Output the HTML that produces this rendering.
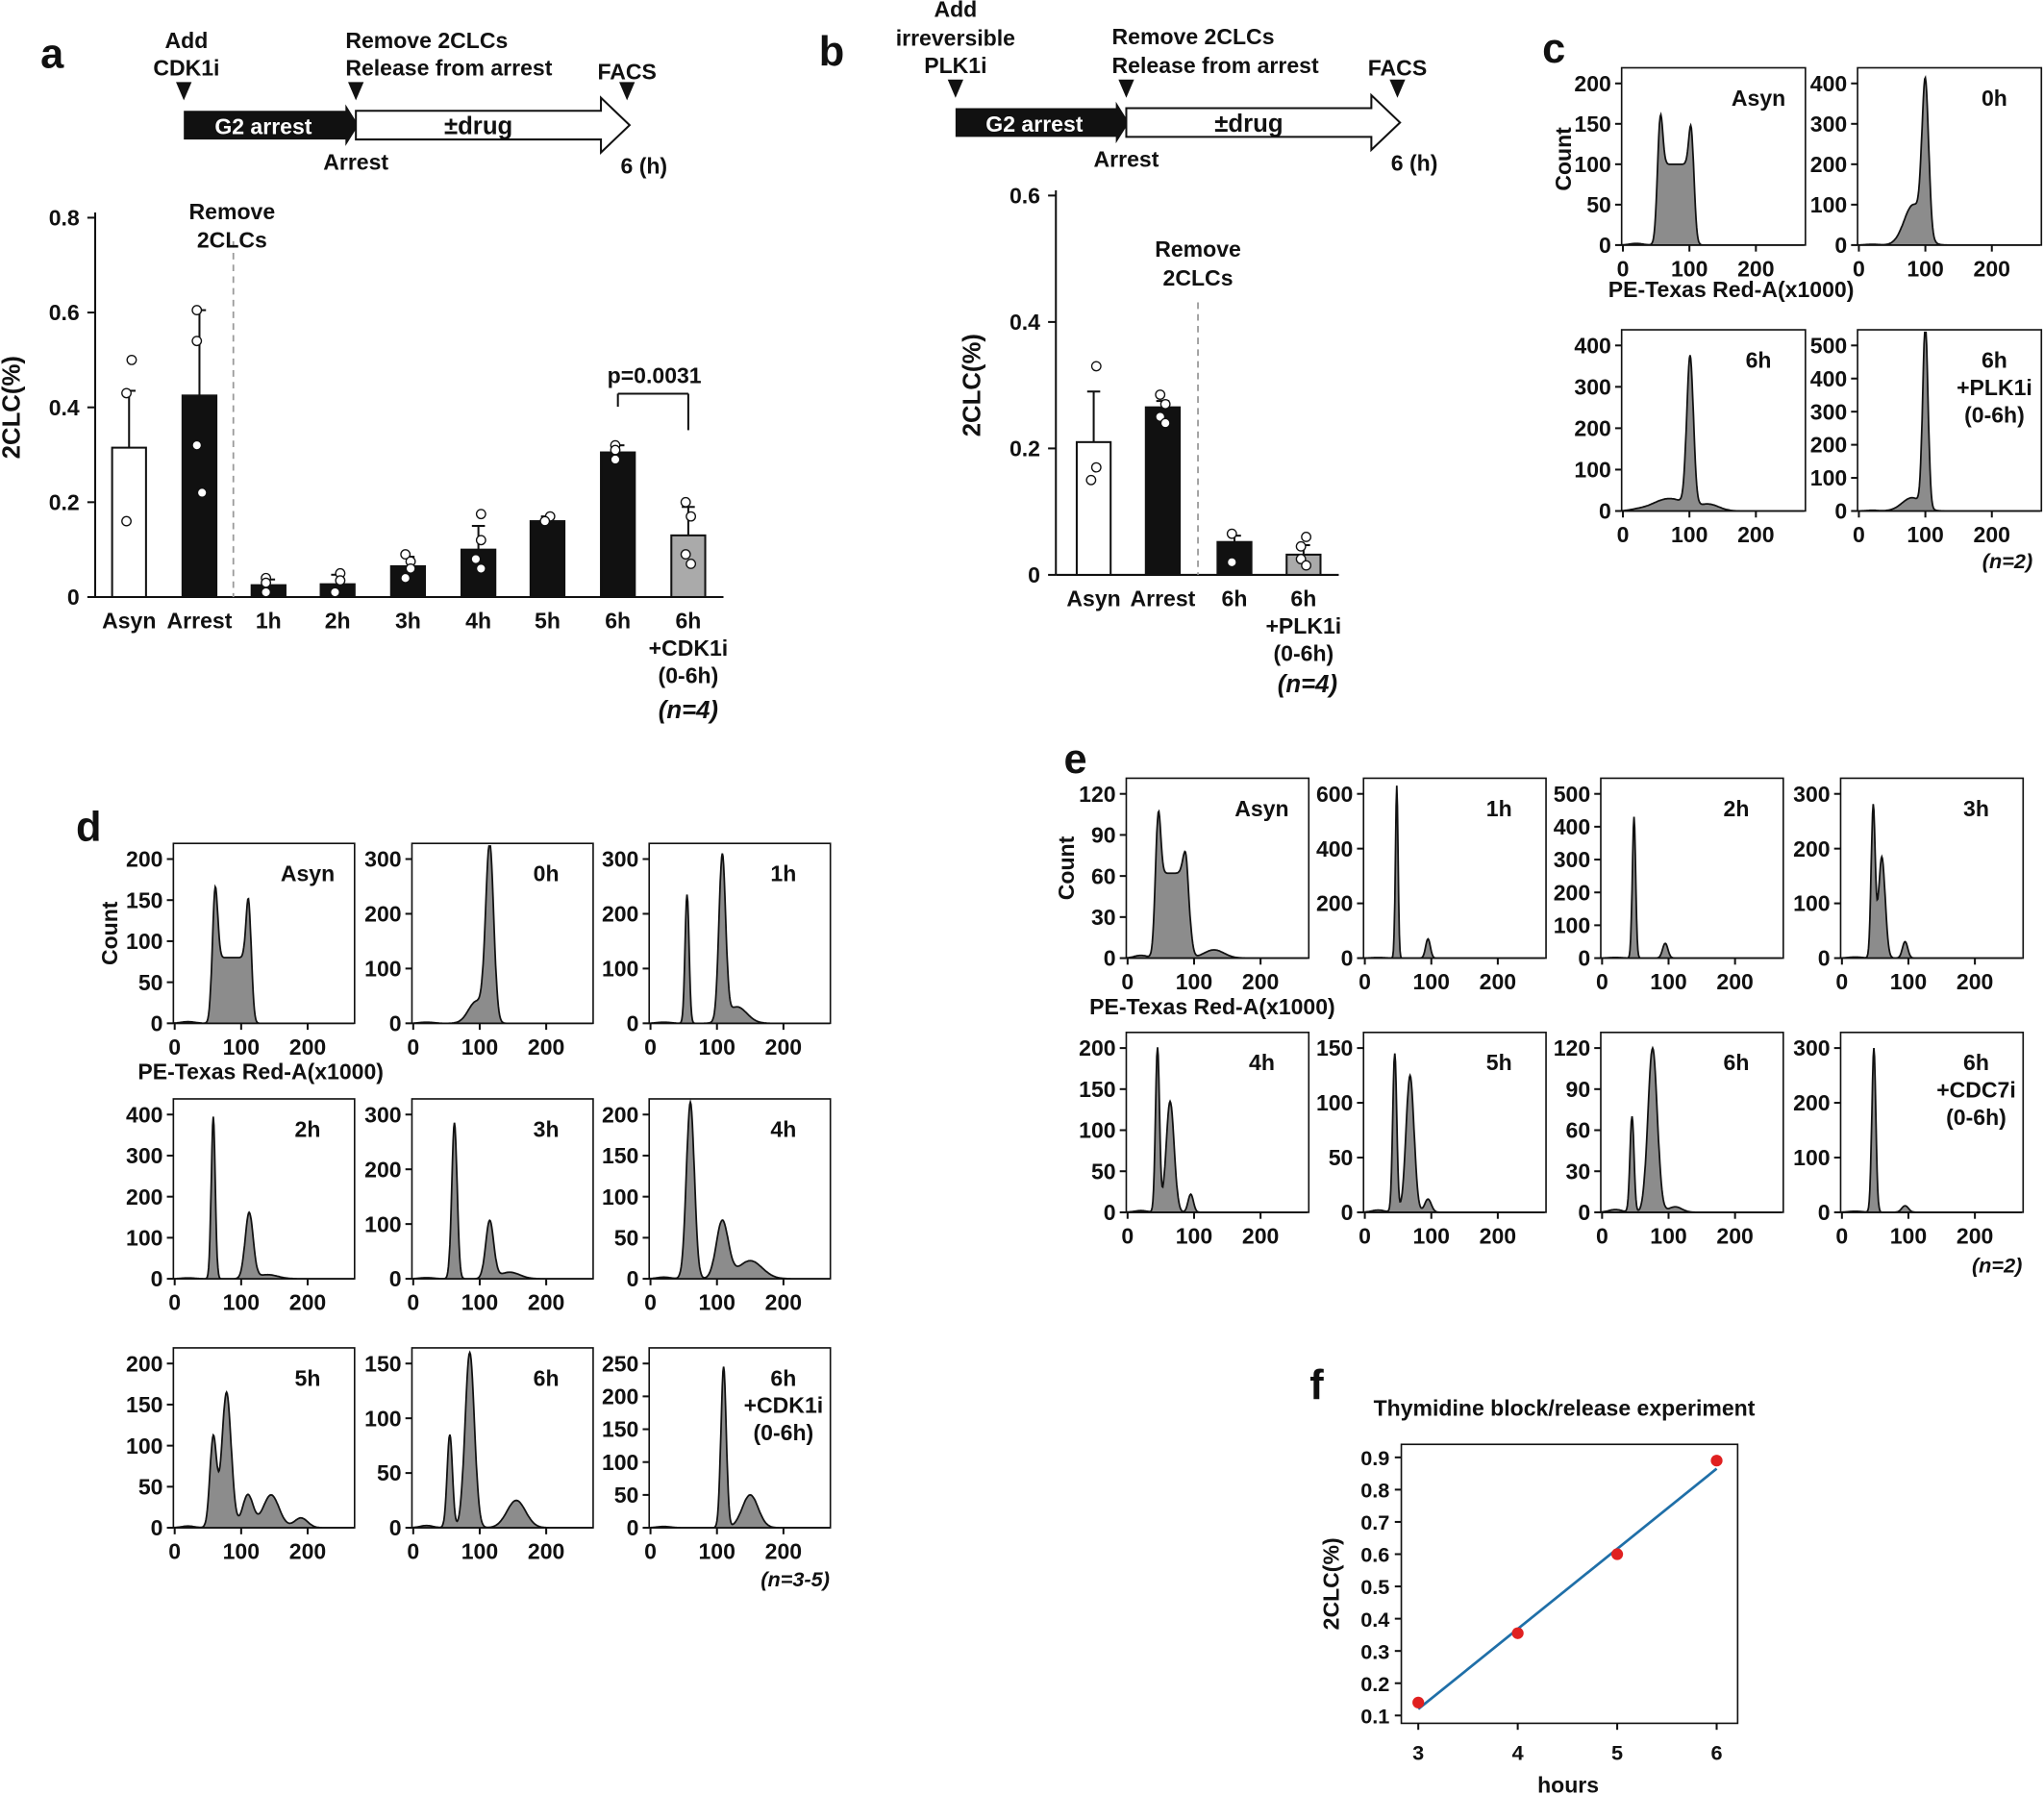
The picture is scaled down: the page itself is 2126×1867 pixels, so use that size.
<!DOCTYPE html>
<html><head><meta charset="utf-8">
<style>
html,body{margin:0;padding:0;background:#fff;}
svg{display:block;}
text{font-family:"Liberation Sans",Arial,sans-serif;font-weight:bold;fill:#111;}
</style></head>
<body>
<svg id="s" width="2126" height="1867" viewBox="0 0 1568 1377" xmlns="http://www.w3.org/2000/svg"></svg>
<script>
var o=[];
function T(x,y,t,sz,anc,extra){o.push('<text x="'+x+'" y="'+y+'" font-size="'+(sz||17)+'" text-anchor="'+(anc||'middle')+'" '+(extra||'')+'>'+t+'</text>');}
function L(x1,y1,x2,y2,w,extra){o.push('<line x1="'+x1+'" y1="'+y1+'" x2="'+x2+'" y2="'+y2+'" stroke="#111" stroke-width="'+(w||1.5)+'" '+(extra||'')+'/>');}
T(40,52,'a',32);T(638,50,'b',32);T(1192,48,'c',32);T(68,645,'d',32);T(825,593,'e',32);T(1010,1073,'f',32);
function timeline(xa,xb,xc,y){
 [xa,xb,xc].forEach(function(x){o.push('<polygon points="'+(x-6)+','+(y-12)+' '+(x+6)+','+(y-12)+' '+x+','+(y+2)+'" fill="#111"/>');});
 o.push('<polygon points="'+xa+','+(y+10)+' '+(xb-8)+','+(y+10)+' '+(xb-8)+','+(y+5)+' '+(xb+2)+','+(y+21)+' '+(xb-8)+','+(y+37)+' '+(xb-8)+','+(y+32)+' '+xa+','+(y+32)+'" fill="#111"/>');
 T((xa+xb)/2-5,y+28,'G2 arrest',17,'middle','style="fill:#fff"');
 o.push('<polygon points="'+xb+','+(y+10)+' '+(xc-20)+','+(y+10)+' '+(xc-20)+','+(y)+' '+(xc+2)+','+(y+21)+' '+(xc-20)+','+(y+42)+' '+(xc-20)+','+(y+32)+' '+xb+','+(y+32)+'" fill="#fff" stroke="#111" stroke-width="1.5"/>');
 T((xb+xc)/2-10,y+28,'±drug',19);
 T(xb,y+55,'Arrest',17);T(xc+13,y+58,'6 (h)',17);
}
timeline(141,273,481,75);
T(143,37,'Add',17);T(143,58,'CDK1i',17);T(265,37,'Remove 2CLCs',17,'start');T(265,58,'Release from arrest',17,'start');T(481,61,'FACS',17);
timeline(733,864,1072,73);
T(733,13,'Add',17);T(733,35,'irreversible',17);T(733,56,'PLK1i',17);T(853,34,'Remove 2CLCs',17,'start');T(853,56,'Release from arrest',17,'start');T(1072,58,'FACS',17);
function bars(ax,y0,ytop,vmax,ticks,right,data,dash,dashTop,ylx,ylabel){
 var sc=(y0-ytop)/vmax;
 L(ax,ytop-4,ax,y0);L(ax,y0,right,y0);
 ticks.forEach(function(t){var y=y0-t*sc;L(ax-6,y,ax,y);T(ax-12,y+6,String(t),17,'end');});
 data.forEach(function(d){
  var yb=y0-d.v*sc;var yt=y0-(d.v+d.e)*sc;
  L(d.x,yb,d.x,yt);L(d.x-5,yt,d.x+5,yt);
  o.push('<rect x="'+(d.x-13)+'" y="'+yb+'" width="26" height="'+(y0-yb)+'" fill="'+d.c+'" stroke="#111" stroke-width="1.5"/>');
  d.p.forEach(function(p){var y=y0-p*sc;o.push('<circle cx="'+(d.x+(p%0.02>0.01?2:-2))+'" cy="'+y+'" r="3.5" fill="#fff" stroke="#111" stroke-width="1"/>');});
  d.l.forEach(function(s,i){T(d.x,y0+24+i*21,s,17);});
 });
 L(dash,dashTop,dash,y0,1.3,'stroke-dasharray="5,4" style="stroke:#999"');
 o.push('<text x="'+ylx+'" y="'+((y0+ytop)/2)+'" font-size="19" text-anchor="middle" transform="rotate(-90 '+ylx+' '+((y0+ytop)/2)+')">'+ylabel+'</text>');
}
bars(73,458,167,0.8,[0,0.2,0.4,0.6,0.8],555,[
 {x:99,v:0.315,e:0.12,c:'#fff',p:[0.5,0.43,0.16],l:['Asyn']},
 {x:153,v:0.425,e:0.18,c:'#111',p:[0.605,0.54,0.32,0.22],l:['Arrest']},
 {x:206,v:0.025,e:0.012,c:'#111',p:[0.04,0.03,0.01],l:['1h']},
 {x:259,v:0.027,e:0.02,c:'#111',p:[0.05,0.035,0.01],l:['2h']},
 {x:313,v:0.065,e:0.02,c:'#111',p:[0.09,0.075,0.06,0.04],l:['3h']},
 {x:367,v:0.1,e:0.05,c:'#111',p:[0.175,0.12,0.08,0.06],l:['4h']},
 {x:420,v:0.16,e:0.01,c:'#111',p:[0.17,0.16],l:['5h']},
 {x:474,v:0.305,e:0.015,c:'#111',p:[0.32,0.31,0.29],l:['6h']},
 {x:528,v:0.13,e:0.06,c:'#aaa',p:[0.2,0.17,0.09,0.07],l:['6h','+CDK1i','(0-6h)']}
],179,185,15,'2CLC(%)');
T(178,168,'Remove',17);T(178,190,'2CLCs',17);
T(502,294,'p=0.0031',17);L(474,302,528,302);L(474,302,474,312);L(528,302,528,330);
T(528,551,'(n=4)',19,'middle','font-style="italic"');
bars(810,441,150,0.6,[0,0.2,0.4,0.6],1027,[
 {x:839,v:0.21,e:0.08,c:'#fff',p:[0.33,0.17,0.15],l:['Asyn']},
 {x:892,v:0.265,e:0.01,c:'#111',p:[0.285,0.27,0.25,0.24],l:['Arrest']},
 {x:947,v:0.052,e:0.01,c:'#111',p:[0.065,0.02],l:['6h']},
 {x:1000,v:0.032,e:0.015,c:'#aaa',p:[0.06,0.045,0.025,0.015],l:['6h','+PLK1i','(0-6h)']}
],919,232,752,'2CLC(%)');
T(919,197,'Remove',17);T(919,219,'2CLCs',17);
T(1003,531,'(n=4)',19,'middle','font-style="italic"');
function g(x,m,s){return Math.exp(-0.5*(x-m)*(x-m)/(s*s));}
function hist(bx,by,bw,bh,ticks,peaks,plat,label){
 var sx=0.51,top=by+12,bot=by+bh,tmax=ticks[ticks.length-1];
 o.push('<rect x="'+bx+'" y="'+by+'" width="'+bw+'" height="'+bh+'" fill="#fff" stroke="#111" stroke-width="1.2"/>');
 var d='M'+(bx+1)+','+bot;
 for(var v=0;v<=270;v+=1){var c=2*g(v,20,10);
  peaks.forEach(function(p){c+=p[1]*g(v,p[0],p[2]);});
  if(plat){c+=plat[2]/(1+Math.exp(-(v-plat[0])/2))/(1+Math.exp((v-plat[1])/2));}
  var y=bot-c/tmax*(bot-top);if(y<by+2)y=by+2;
  d+=' L'+(bx+1+v*sx).toFixed(1)+','+y.toFixed(1);}
 d+=' L'+(bx+bw-1)+','+bot+' Z';
 o.push('<path d="'+d+'" fill="#8c8c8c" stroke="#111" stroke-width="1.3"/>');
 ticks.forEach(function(t){var y=bot-t/tmax*(bot-top);L(bx-5,y,bx,y);T(bx-8,y+6,String(t),17,'end');});
 [0,100,200].forEach(function(t){var x=bx+1+t*sx;L(x,bot,x,bot+5);T(x,bot+24,String(t),17);});
 label.forEach(function(s,i){T(bx+bw-36,by+29+i*21,s,17);});
}
function R(a,b,s){var r=[];for(var i=a;i<=b;i+=s)r.push(i);return r;}
hist(1244,52,141,136,R(0,200,50),[[55,100,4],[104,85,4]],[55,104,100],['Asyn']);
hist(1425,52,141,136,R(0,400,100),[[100,370,5],[82,100,14]],null,['0h']);
hist(1244,253,141,139,R(0,400,100),[[101,360,5],[70,30,25],[130,15,15]],null,['6h']);
hist(1425,253,141,139,R(0,500,100),[[100,550,4],[80,40,15]],null,['6h','+PLK1i','(0-6h)']);
T(1328,228,'PE-Texas Red-A(x1000)',17);
o.push('<text x="1205" y="122" font-size="17" text-anchor="middle" transform="rotate(-90 1205 122)">Count</text>');
T(1540,436,'(n=2)',16,'middle','font-style="italic"');
var dx=[133,316,498],dy=[647,843,1034];
hist(dx[0],dy[0],139,138,R(0,200,50),[[60,120,4],[112,105,4]],[60,112,80],['Asyn']);
hist(dx[1],dy[0],139,138,R(0,300,100),[[115,320,6],[95,40,12]],null,['0h']);
hist(dx[2],dy[0],139,138,R(0,300,100),[[55,235,3],[108,300,5],[130,30,15]],null,['1h']);
hist(dx[0],dy[1],139,138,R(0,400,100),[[58,395,3],[112,160,6],[140,10,15]],null,['2h']);
hist(dx[1],dy[1],139,138,R(0,300,100),[[62,285,4],[115,105,6],[145,12,15]],null,['3h']);
hist(dx[2],dy[1],139,138,R(0,200,50),[[60,215,6],[108,70,9],[150,22,18]],null,['4h']);
hist(dx[0],dy[2],139,138,R(0,200,50),[[58,110,5],[78,165,7],[110,40,8],[145,40,12],[190,12,10]],null,['5h']);
hist(dx[1],dy[2],139,138,R(0,150,50),[[55,85,4],[85,160,7],[155,25,14]],null,['6h']);
hist(dx[2],dy[2],139,138,R(0,250,50),[[110,245,4],[150,50,12]],null,['6h','+CDK1i','(0-6h)']);
T(200,828,'PE-Texas Red-A(x1000)',17);
o.push('<text x="90" y="716" font-size="17" text-anchor="middle" transform="rotate(-90 90 716)">Count</text>');
T(610,1217,'(n=3-5)',16,'middle','font-style="italic"');
var ex=[864,1046,1228,1412],ey=[597,792];
hist(ex[0],ey[0],140,138,R(0,120,30),[[45,70,4],[90,32,5],[130,6,15]],[45,90,62],['Asyn']);
hist(ex[1],ey[0],140,138,R(0,600,200),[[48,630,2],[95,70,3.5]],null,['1h']);
hist(ex[2],ey[0],140,138,R(0,500,100),[[48,430,2.5],[95,45,4]],null,['2h']);
hist(ex[3],ey[0],140,138,R(0,300,100),[[47,275,3],[60,185,5],[95,30,4]],null,['3h']);
hist(ex[0],ey[1],140,138,R(0,200,50),[[45,200,3],[64,135,6],[95,22,4]],null,['4h']);
hist(ex[1],ey[1],140,138,R(0,150,50),[[45,145,3],[68,125,6],[95,12,5]],null,['5h']);
hist(ex[2],ey[1],140,138,R(0,120,30),[[45,70,3],[76,120,7],[110,4,10]],null,['6h']);
hist(ex[3],ey[1],140,138,R(0,300,100),[[48,300,3],[95,12,5]],null,['6h','+CDC7i','(0-6h)']);
T(930,778,'PE-Texas Red-A(x1000)',17);
o.push('<text x="824" y="666" font-size="17" text-anchor="middle" transform="rotate(-90 824 666)">Count</text>');
T(1532,976,'(n=2)',16,'middle','font-style="italic"');
T(1200,1086,'Thymidine block/release experiment',17);
o.push('<rect x="1075" y="1108" width="258" height="214" fill="#fff" stroke="#111" stroke-width="1.2"/>');
function fy(v){return 1316-(v-0.1)/0.1*24.75;}function fx(h){return 1088+(h-3)*76.3;}
for(var i=1;i<=9;i++){var y=fy(i/10);L(1070,y,1075,y);T(1066,y+6,'0.'+i,16,'end');}
[3,4,5,6].forEach(function(h){L(fx(h),1322,fx(h),1327);T(fx(h),1350,String(h),16);});
o.push('<line x1="'+fx(3)+'" y1="'+fy(0.12)+'" x2="'+fx(6)+'" y2="'+fy(0.865)+'" stroke="#1f6fa8" stroke-width="2"/>');
[[3,0.14],[4,0.355],[5,0.6],[6,0.89]].forEach(function(p){o.push('<circle cx="'+fx(p[0])+'" cy="'+fy(p[1])+'" r="4.5" fill="#e02020"/>');});
T(1203,1375,'hours',17);
o.push('<text x="1027" y="1215" font-size="17" text-anchor="middle" transform="rotate(-90 1027 1215)">2CLC(%)</text>');
document.getElementById('s').innerHTML=o.join('');
</script>
</body></html>
